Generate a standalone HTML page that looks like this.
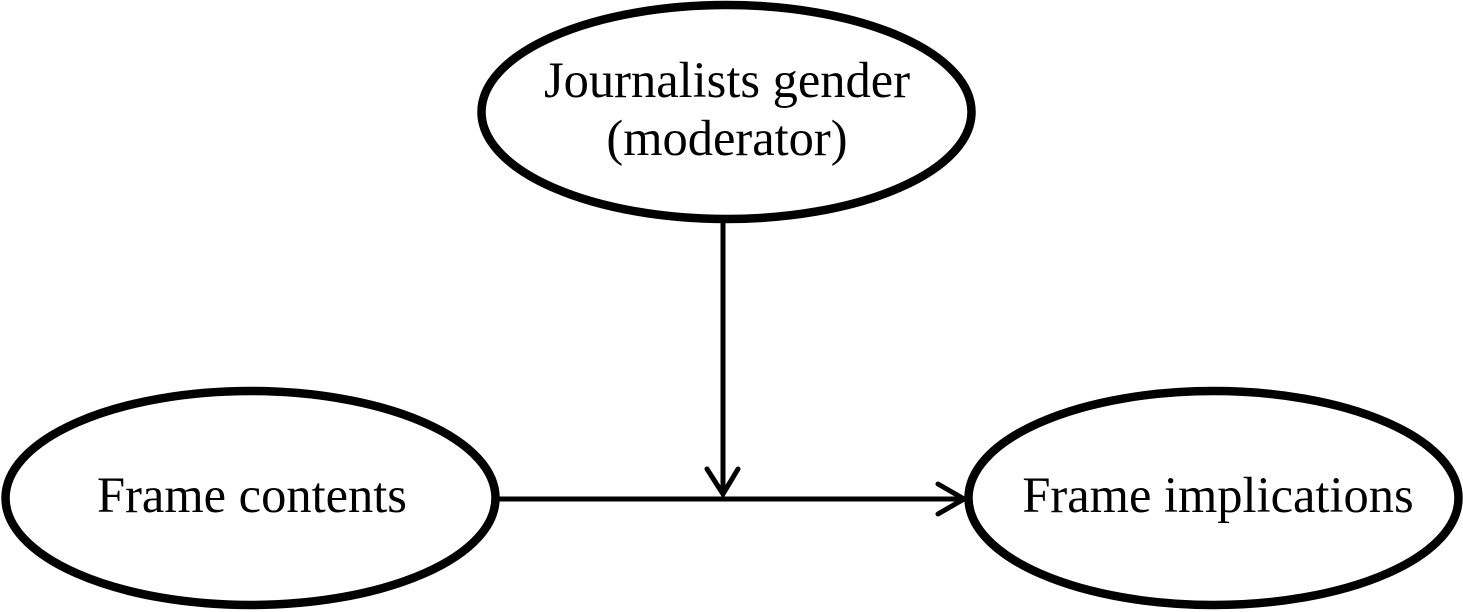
<!DOCTYPE html>
<html>
<head>
<meta charset="utf-8">
<style>
  html, body { margin: 0; padding: 0; background: #fff; }
  svg { display: block; }
  text { font-family: "Liberation Serif", "Times New Roman", serif; font-size: 50.5px; fill: #000; }
</style>
</head>
<body>
<svg width="1463" height="612" viewBox="0 0 1463 612" xmlns="http://www.w3.org/2000/svg">
  <rect width="1463" height="612" fill="#fff"/>
  <!-- Ellipses -->
  <ellipse cx="726.5" cy="112" rx="245" ry="107" fill="none" stroke="#000" stroke-width="8.5"/>
  <ellipse cx="250.5" cy="498" rx="245" ry="107" fill="none" stroke="#000" stroke-width="8.5"/>
  <ellipse cx="1213.5" cy="498" rx="245" ry="107" fill="none" stroke="#000" stroke-width="8.5"/>

  <!-- Horizontal connector -->
  <line x1="496" y1="499" x2="963" y2="499" stroke="#000" stroke-width="5"/>
  <polyline points="938,484 964,499 938,514" fill="none" stroke="#000" stroke-width="5" stroke-linecap="round" stroke-linejoin="miter"/>

  <!-- Vertical connector -->
  <line x1="723" y1="222" x2="723" y2="493" stroke="#000" stroke-width="5"/>
  <polyline points="707,469 723,494 738,469" fill="none" stroke="#000" stroke-width="5" stroke-linecap="round" stroke-linejoin="miter"/>

  <!-- Labels -->
  <text x="727" y="97" text-anchor="middle">Journalists gender</text>
  <text x="727" y="155" text-anchor="middle">(moderator)</text>
  <text x="252" y="512" text-anchor="middle">Frame contents</text>
  <text x="1218" y="512" text-anchor="middle">Frame implications</text>
</svg>
</body>
</html>
